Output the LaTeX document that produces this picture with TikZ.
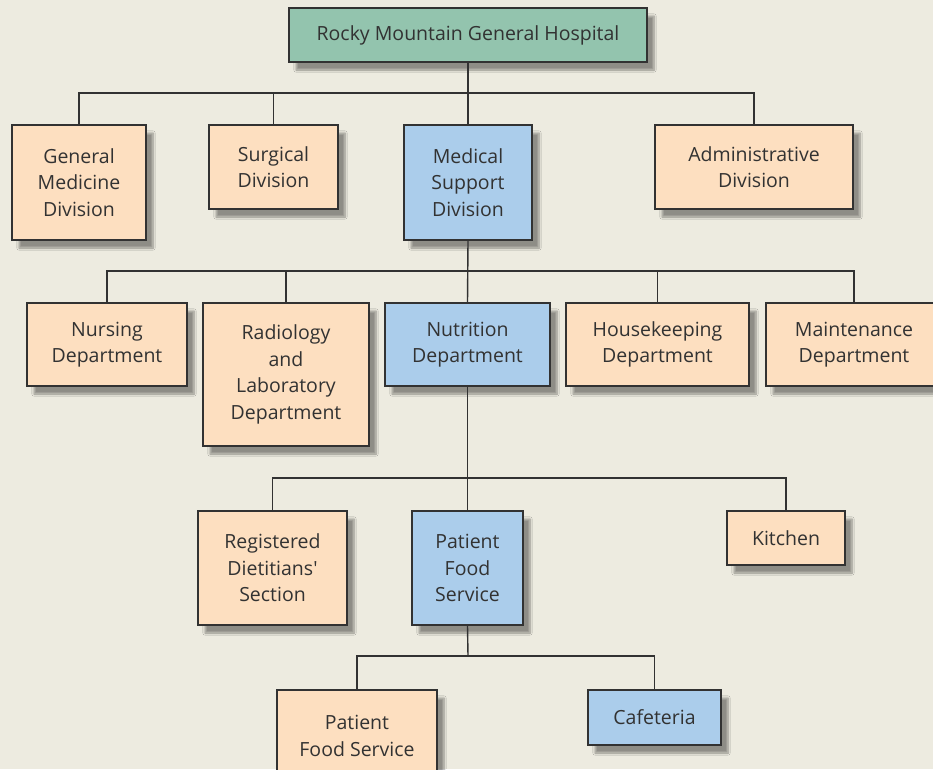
\documentclass[tikz,border=0pt]{standalone}
\usepackage{fontspec}
\setmainfont{Open Sans}
\usetikzlibrary{shadows.blur}

\definecolor{bgcol}{RGB}{237,235,224}
\definecolor{peach}{RGB}{253,223,192}
\definecolor{skyblue}{RGB}{171,205,235}
\definecolor{sage}{RGB}{147,196,174}
\definecolor{inkgray}{RGB}{50,50,50}

\tikzset{
  unit/.style={draw=inkgray, line width=1.5pt, fill=peach, align=center,
    text=inkgray, inner sep=0pt,
    font=\fontsize{19.5}{26.5}\selectfont,
    blur shadow={shadow xshift=7pt, shadow yshift=-8pt, shadow blur steps=8, shadow opacity=40}},
  support/.style={unit, fill=skyblue},
  top/.style={unit, fill=sage},
  link/.style={draw=inkgray, line width=1.4pt}
}

\begin{document}
\begin{tikzpicture}[x=1pt, y=-1pt]
  \fill[bgcol] (0,0) rectangle (933,769);
  \useasboundingbox (0,0) rectangle (933,769);
  \clip (0,0) rectangle (933,769);

  % hospital and its divisions
  \node[top, minimum width=358pt, minimum height=54pt] (hosp) at (468,35) {Rocky Mountain General Hospital};
  \node[unit, minimum width=134pt, minimum height=115pt] (gmd) at (79,182.5) {General\\Medicine\\Division};
  \node[unit, minimum width=129pt, minimum height=84pt] (surg) at (273.5,167) {Surgical\\Division};
  \node[support, minimum width=128pt, minimum height=115pt] (msd) at (468,182.5) {Medical\\Support\\Division};
  \node[unit, minimum width=198pt, minimum height=84pt] (adm) at (754,167) {Administrative\\Division};

  % departments of medical support
  \node[unit, minimum width=160pt, minimum height=83pt] (nurs) at (107,344.5) {Nursing\\Department};
  \node[unit, minimum width=166pt, minimum height=143pt] (radl) at (286,374.5) {Radiology\\and\\Laboratory\\Department};
  \node[support, minimum width=165pt, minimum height=83pt] (nutr) at (467.5,344.5) {Nutrition\\Department};
  \node[unit, minimum width=183pt, minimum height=83pt] (hskp) at (657.5,344.5) {Housekeeping\\Department};
  \node[unit, minimum width=176pt, minimum height=83pt] (mnt) at (854,344.5) {Maintenance\\Department};

  % nutrition sections
  \node[unit, minimum width=149pt, minimum height=114pt] (rds) at (272.5,568) {Registered\\Dietitians\textquotesingle\\Section};
  \node[support, minimum width=111pt, minimum height=114pt] (pfs) at (467.5,568) {Patient\\Food\\Service};
  \node[unit, minimum width=118pt, minimum height=54pt] (kit) at (786,538) {Kitchen};

  % patient food service
  \node[unit, minimum width=160pt, minimum height=92pt] (pfsub) at (357,736) {Patient\\Food Service};
  \node[support, minimum width=133pt, minimum height=55pt] (caf) at (654.5,717.5) {Cafeteria};

  % bus lines
  \coordinate (bus1) at (468,93);
  \coordinate (bus2) at (468,271);
  \coordinate (bus3) at (468,478);
  \coordinate (bus4) at (468,656);

  \draw[link] (hosp.south) -- (msd.north);
  \foreach \n in {gmd,surg,adm}
    \draw[link] (bus1) -| (\n.north);

  \draw[link] (msd.south) -- (nutr.north);
  \foreach \n in {nurs,radl,hskp,mnt}
    \draw[link] (bus2) -| (\n.north);

  \draw[link] (nutr.south) -- (pfs.north);
  \foreach \n in {rds,kit}
    \draw[link] (bus3) -| (\n.north);

  \draw[link] (pfs.south) -- (bus4);
  \foreach \n in {pfsub,caf}
    \draw[link] (bus4) -| (\n.north);
\end{tikzpicture}
\end{document}
